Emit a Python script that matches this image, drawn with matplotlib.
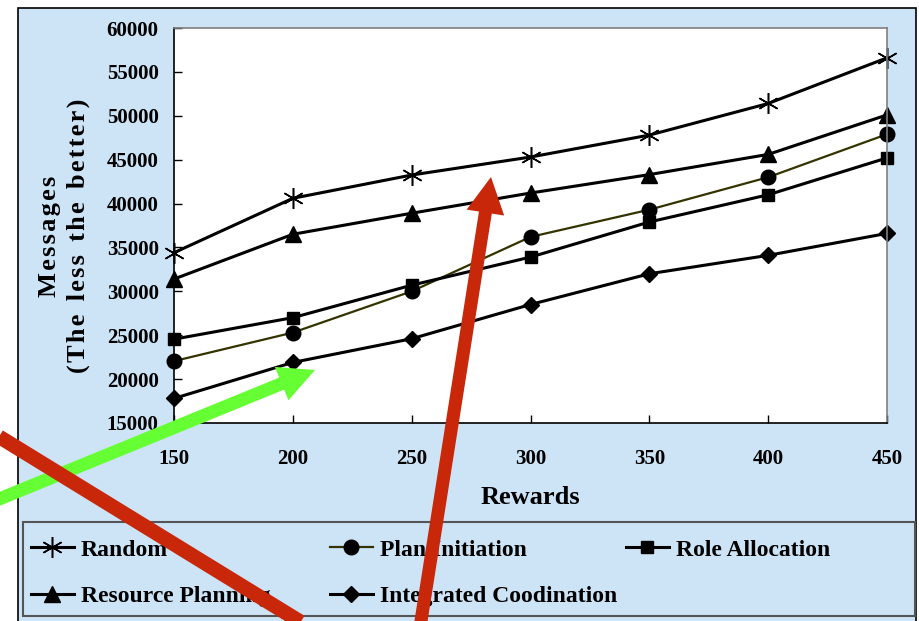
import matplotlib
matplotlib.use("Agg")
import matplotlib.pyplot as plt
from matplotlib.patches import Rectangle, FancyArrow
from matplotlib.transforms import IdentityTransform
from matplotlib.lines import Line2D

# datos
rewards = [150, 200, 250, 300, 350, 400, 450]
random_msgs = [34400, 40600, 43250, 45300, 47800, 51400, 56600]
plan_initiation = [22050, 25300, 30000, 36200, 39300, 43000, 47900]
role_allocation = [24550, 27000, 30700, 33900, 37900, 41000, 45200]
resource_planning = [31400, 36500, 38900, 41200, 43300, 45600, 50100]
integrated_coord = [17800, 21900, 24600, 28500, 32000, 34100, 36600]

y_ticks = [15000, 20000, 25000, 30000, 35000, 40000, 45000, 50000, 55000, 60000]

AZUL = "#CCE4F6"
ROJO = "#C8270A"
VERDE = "#66FF33"
SERIF = ["Liberation Serif", "DejaVu Serif"]

plt.rcParams["font.family"] = SERIF
plt.rcParams["font.weight"] = "bold"

W, H = 919, 621
fig = plt.figure(figsize=(W / 100, H / 100), dpi=100)
fig.patch.set_facecolor("white")

marco = Rectangle((18 / W, -0.05), (916 - 18) / W, 1 - 8 / H + 0.05,
                  transform=fig.transFigure, facecolor=AZUL,
                  edgecolor="black", lw=1.2, zorder=-1)
fig.add_artist(marco)

ax = fig.add_axes([174 / W, (H - 423) / H, 713 / W, 395 / H])
ax.set_facecolor("white")

asterisco = (6, 2, 0)
l_rand, = ax.plot(rewards, random_msgs, color="black", lw=2.2, marker=asterisco,
                  ms=15, mew=1.1, clip_on=False)
l_plan, = ax.plot(rewards, plan_initiation, color="#333300", lw=1.6, marker="o",
                  ms=10.5, mfc="black", mec="black", clip_on=False)
l_role, = ax.plot(rewards, role_allocation, color="black", lw=2.2, marker="s",
                  ms=8, clip_on=False)
l_res, = ax.plot(rewards, resource_planning, color="black", lw=2.2, marker="^",
                 ms=11, clip_on=False)
l_int, = ax.plot(rewards, integrated_coord, color="black", lw=2.2, marker="D",
                 ms=8.5, clip_on=False)

ax.set_xlim(150, 450)
ax.set_ylim(15000, 60000)
ax.set_xticks(rewards)
ax.set_yticks(y_ticks)
ax.tick_params(axis="both", direction="in", labelsize=15, length=6,
               width=1, top=False, right=False)
ax.tick_params(axis="x", pad=19)
ax.tick_params(axis="y", pad=11)
for lab in ax.get_xticklabels() + ax.get_yticklabels():
    lab.set_fontweight("bold")

ax.spines["top"].set_color("#808080")
ax.spines["right"].set_color("#808080")
ax.spines["left"].set_color("black")
ax.spines["bottom"].set_color("black")
for s in ax.spines.values():
    s.set_linewidth(1.2)

fig.text(530 / W, 1 - 497 / H, "Rewards", ha="center", va="center",
         fontsize=19, fontweight="bold")

sp = "\u200a"
linea1 = sp.join("Messages")
linea2 = "  ".join(sp.join(w) for w in ["(The", "less", "the", "better)"])
fig.text(64 / W, 1 - 236 / H, linea1 + "\n" + linea2, rotation=90,
         ha="center", va="center", fontsize=19, fontweight="bold",
         linespacing=1.3, multialignment="center")

# leyenda: tres columnas separadas y un marco comun
fig.add_artist(Rectangle((23 / W, 5 / H), 892 / W, 94 / H,
                         transform=fig.transFigure, facecolor=AZUL,
                         edgecolor="#555555", lw=1.5, zorder=4))

columnas = [
    (31, [l_rand, l_res], ["Random", "Resource Planning"]),
    (330, [l_plan, l_int], ["Plan Initiation", "Integrated Coodination"]),
    (626, [l_role], ["Role Allocation"]),
]
for x0, hs, ls in columnas:
    leg = fig.legend(hs, ls, loc="upper left",
                     bbox_to_anchor=(x0 / W, 1 - 539 / H),
                     fontsize=17, frameon=False, handlelength=1.8,
                     handletextpad=0.3, labelspacing=1.05,
                     borderaxespad=0, borderpad=0)
    leg.set_zorder(5)
    for t in leg.get_texts():
        t.set_fontweight("bold")

# flechas superpuestas (coordenadas en pixeles, origen abajo)
def flecha(x0, y0, x1, y1, color, ancho, cabeza_ancho, cabeza_largo):
    a = FancyArrow(x0, H - y0, x1 - x0, -(y1 - y0), width=ancho,
                   head_width=cabeza_ancho, head_length=cabeza_largo,
                   length_includes_head=True, color=color, lw=0,
                   transform=IdentityTransform(), zorder=20)
    fig.add_artist(a)

flecha(-40, 515, 315, 370, VERDE, 13, 36, 36)

fig.add_artist(Line2D([-20 / W, 330 / W], [1 - 425 / H, 1 - 640 / H],
                      transform=fig.transFigure, color=ROJO, lw=10.5,
                      solid_capstyle="butt", zorder=21))

flecha(418, 640, 491, 177, ROJO, 13, 38, 36)

fig.savefig("out.png", dpi=100)
